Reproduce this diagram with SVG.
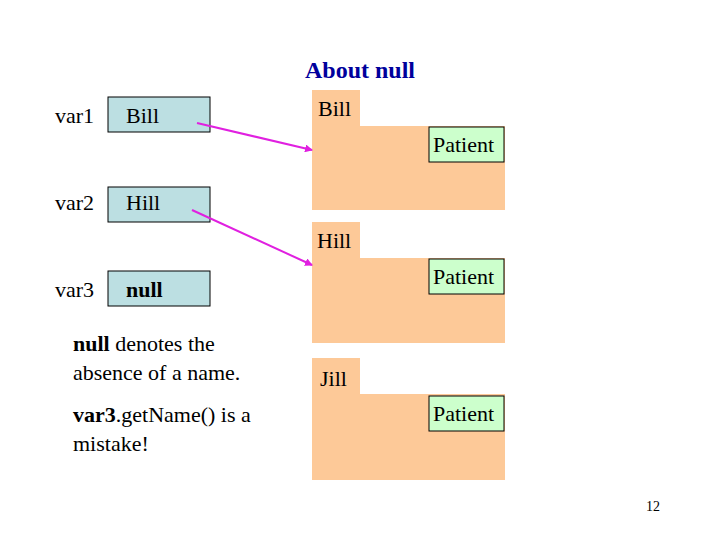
<svg xmlns="http://www.w3.org/2000/svg" width="720" height="540" viewBox="0 0 720 540">
<style>
text{font-family:"Liberation Serif",serif;fill:#000}
.v{fill:#bcdfe2;stroke:#000;stroke-width:1}
.o{fill:#fdc998}
.p{fill:#ccffcc;stroke:#000;stroke-width:1}
.t{font-size:22px}
.c{stroke:#e020e0;stroke-width:2;fill:none;marker-end:url(#a)}
</style>
<defs><marker id="a" markerWidth="8" markerHeight="8" refX="7" refY="4" orient="auto" markerUnits="userSpaceOnUse"><path d="M0,0L8,4L0,8z" fill="#e020e0"/></marker></defs>
<rect width="720" height="540" fill="#fff"/>
<text x="360" y="78" text-anchor="middle" style="font-size:24px;font-weight:bold;fill:#00009c">About null</text>
<g id="var1"><text class="t" x="55" y="123">var1</text><rect class="v" x="108" y="97" width="102" height="35"/><text class="t" x="126" y="123">Bill</text></g>
<g id="var2"><text class="t" x="55" y="210">var2</text><rect class="v" x="108" y="187" width="102" height="35"/><text class="t" x="126" y="210">Hill</text></g>
<g id="var3"><text class="t" x="55" y="297">var3</text><rect class="v" x="108" y="271" width="102" height="35"/><text class="t" x="126" y="297" font-weight="bold">null</text></g>
<g id="obj1"><path class="o" d="M312,90H360V126H505V210H312Z"/><text class="t" x="318" y="116">Bill</text><rect class="p" x="429" y="127" width="75" height="35"/><text class="t" x="433" y="152">Patient</text></g>
<g id="obj2"><path class="o" d="M312,222H360V258H505V343H312Z"/><text class="t" x="317" y="248">Hill</text><rect class="p" x="429" y="259" width="75" height="35"/><text class="t" x="433" y="284">Patient</text></g>
<g id="obj3"><path class="o" d="M312,358H360V394H505V480H312Z"/><text class="t" x="320" y="386">Jill</text><rect class="p" x="429" y="396" width="75" height="35"/><text class="t" x="433" y="421">Patient</text></g>
<g id="connectors"><path class="c" d="M197,123L312,150"/><path class="c" d="M192,210L312,265"/></g>
<g id="notes"><text class="t" x="73" y="351"><tspan font-weight="bold">null</tspan> denotes the</text><text class="t" x="73" y="380">absence of a name.</text>
<text class="t" x="73" y="422"><tspan font-weight="bold">var3</tspan>.getName() is a</text><text class="t" x="73" y="451">mistake!</text></g>
<text x="660" y="511" text-anchor="end" style="font-size:14px">12</text>
</svg>
